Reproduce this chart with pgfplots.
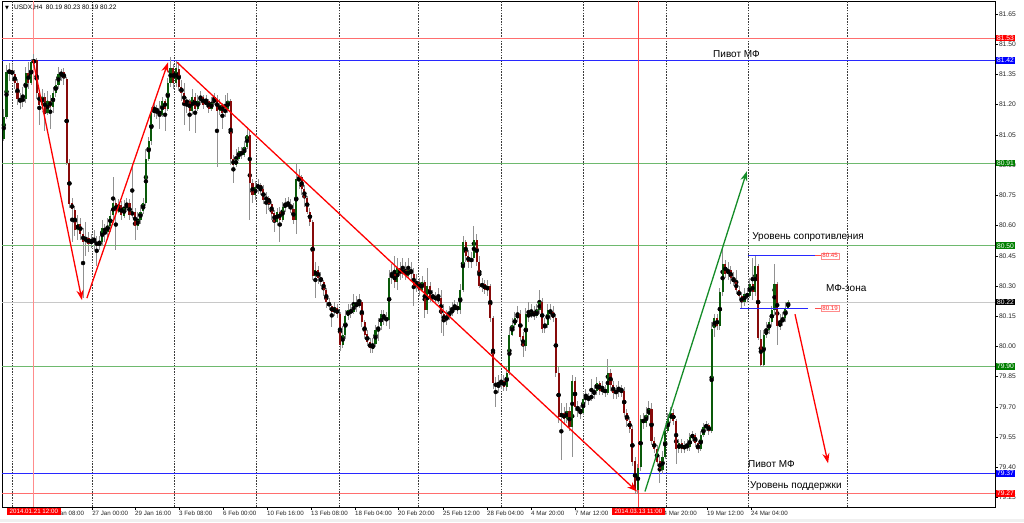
\documentclass[border=0pt]{standalone}
\usepackage{pgfplots}
\pgfplotsset{compat=1.18}
\usepackage{pgfplotstable}
\usepackage{fontspec}
\setmainfont{Liberation Sans}
\newfontfamily\symfont{DejaVu Sans}
\usetikzlibrary{arrows.meta}

\definecolor{bull}{RGB}{10,90,10}
\definecolor{bear}{RGB}{135,10,10}
\definecolor{wick}{RGB}{145,145,145}
\definecolor{lvlred}{RGB}{255,110,110}
\definecolor{lvlblue}{RGB}{40,40,255}
\definecolor{lvlgreen}{RGB}{110,185,110}
\definecolor{curline}{RGB}{200,200,200}
\definecolor{boxgreen}{RGB}{0,128,0}
\definecolor{arrowgreen}{RGB}{20,140,40}
\definecolor{gridc}{RGB}{60,60,60}

\newcommand{\tk}{\fontsize{6.2}{7}\selectfont}
\newcommand{\tky}{\fontsize{6.7}{7.5}\selectfont}
\newcommand{\ann}{\fontsize{10}{12}\selectfont}

% USDX, H4 candles: bar index, open, high, low, close
\pgfplotstableread{
i o h l c
-3 81.03 81.18 81.02 81.14
-2 81.14 81.40 81.13 81.36
-1 81.36 81.41 81.32 81.37
0 81.37 81.40 81.32 81.35
1 81.35 81.37 81.28 81.31
2 81.31 81.33 81.20 81.23
3 81.23 81.26 81.18 81.22
4 81.22 81.29 81.19 81.23
5 81.23 81.39 81.21 81.36
6 81.36 81.41 81.28 81.31
7 81.31 81.43 81.30 81.41
8 81.41 81.45 81.38 81.42
9 81.42 81.43 81.23 81.26
10 81.26 81.27 81.10 81.20
11 81.20 81.28 81.18 81.24
12 81.24 81.26 81.07 81.16
13 81.16 81.27 81.15 81.22
14 81.22 81.25 81.08 81.19
15 81.19 81.29 81.16 81.26
16 81.26 81.33 81.24 81.30
17 81.30 81.39 81.28 81.35
18 81.35 81.38 81.32 81.36
19 81.36 81.38 81.30 81.33
20 81.33 81.34 80.90 80.91
21 80.91 80.93 80.69 80.71
22 80.71 80.74 80.52 80.68
23 80.68 80.70 80.55 80.58
24 80.58 80.65 80.53 80.61
25 80.61 80.64 80.53 80.56
26 80.56 80.59 80.24 80.52
27 80.52 80.62 80.45 80.54
28 80.54 80.57 80.47 80.51
29 80.51 80.56 80.49 80.53
30 80.53 80.58 80.48 80.52
31 80.52 80.55 80.40 80.50
32 80.50 80.55 80.48 80.52
33 80.52 80.63 80.50 80.59
34 80.59 80.61 80.52 80.57
35 80.57 80.64 80.54 80.60
36 80.60 80.68 80.57 80.65
37 80.65 80.84 80.63 80.71
38 80.71 80.73 80.48 80.67
39 80.67 80.73 80.66 80.70
40 80.70 80.72 80.63 80.65
41 80.65 80.73 80.64 80.69
42 80.69 80.74 80.67 80.71
43 80.71 80.73 80.63 80.65
44 80.65 80.91 80.64 80.67
45 80.67 80.69 80.53 80.60
46 80.60 80.67 80.58 80.63
47 80.63 80.70 80.61 80.67
48 80.67 80.74 80.66 80.71
49 80.71 80.98 80.70 80.93
50 80.93 81.04 80.92 81.02
51 81.02 81.19 81.00 81.16
52 81.16 81.22 81.14 81.18
53 81.18 81.20 81.13 81.17
54 81.17 81.22 81.08 81.15
55 81.15 81.24 81.14 81.22
56 81.22 81.23 81.07 81.18
57 81.18 81.33 81.17 81.31
58 81.31 81.44 81.29 81.38
59 81.38 81.40 81.28 81.31
60 81.31 81.42 81.29 81.38
61 81.38 81.41 81.27 81.29
62 81.29 81.32 81.22 81.26
63 81.26 81.31 81.10 81.21
64 81.21 81.24 81.16 81.22
65 81.22 81.23 81.07 81.17
66 81.17 81.28 81.15 81.24
67 81.24 81.26 81.06 81.18
68 81.18 81.25 81.17 81.22
69 81.22 81.27 81.20 81.24
70 81.24 81.25 81.18 81.20
71 81.20 81.25 81.19 81.22
72 81.22 81.23 81.16 81.18
73 81.18 81.24 81.17 81.21
74 81.21 81.26 81.20 81.23
75 81.23 81.25 80.89 81.17
76 81.17 81.23 81.15 81.20
77 81.20 81.21 81.08 81.16
78 81.16 81.25 81.14 81.18
79 81.18 81.26 81.16 81.22
80 81.22 81.23 80.90 80.93
81 80.93 80.95 80.81 80.90
82 80.90 80.98 80.89 80.93
83 80.93 80.99 80.92 80.97
84 80.97 80.99 80.93 80.95
85 80.95 81.02 80.94 80.99
86 80.99 81.09 80.98 81.05
87 81.05 81.07 80.63 80.81
88 80.81 80.83 80.71 80.75
89 80.75 80.82 80.73 80.79
90 80.79 80.83 80.76 80.80
91 80.80 80.81 80.75 80.78
92 80.78 80.80 80.71 80.73
93 80.73 80.77 80.66 80.74
94 80.74 80.75 80.68 80.71
95 80.71 80.72 80.63 80.66
96 80.66 80.68 80.57 80.62
97 80.62 80.69 80.60 80.67
98 80.67 80.69 80.52 80.63
99 80.63 80.72 80.62 80.69
100 80.69 80.74 80.67 80.71
101 80.71 80.74 80.68 80.70
102 80.70 80.73 80.66 80.68
103 80.68 80.71 80.61 80.63
104 80.63 80.91 80.56 80.83
105 80.83 80.88 80.78 80.84
106 80.84 80.85 80.75 80.78
107 80.78 80.80 80.69 80.74
108 80.74 80.75 80.66 80.67
109 80.67 80.69 80.60 80.62
110 80.62 80.63 80.33 80.35
111 80.35 80.42 80.24 80.38
112 80.38 80.40 80.31 80.34
113 80.34 80.37 80.30 80.32
114 80.32 80.33 80.25 80.28
115 80.28 80.29 80.19 80.22
116 80.22 80.24 80.18 80.20
117 80.20 80.21 80.10 80.17
118 80.17 80.22 80.15 80.19
119 80.19 80.21 80.14 80.16
120 80.16 80.17 79.98 80.01
121 80.01 80.10 79.99 80.06
122 80.06 80.18 80.04 80.15
123 80.15 80.21 80.13 80.18
124 80.18 80.21 80.14 80.17
125 80.17 80.26 80.16 80.21
126 80.21 80.25 80.17 80.20
127 80.20 80.26 80.19 80.22
128 80.22 80.23 80.10 80.12
129 80.12 80.13 80.04 80.06
130 80.06 80.08 80.00 80.02
131 80.02 80.04 79.97 79.99
132 79.99 80.04 79.97 80.01
133 80.01 80.11 80.00 80.08
134 80.08 80.14 80.03 80.10
135 80.10 80.18 80.08 80.16
136 80.16 80.18 80.11 80.14
137 80.14 80.17 80.10 80.13
138 80.13 80.38 80.09 80.34
139 80.34 80.41 80.31 80.36
140 80.36 80.45 80.29 80.32
141 80.32 80.44 80.28 80.39
142 80.39 80.42 80.33 80.36
143 80.36 80.44 80.34 80.38
144 80.38 80.42 80.33 80.35
145 80.35 80.44 80.34 80.38
146 80.38 80.42 80.33 80.36
147 80.36 80.39 80.20 80.30
148 80.30 80.36 80.27 80.32
149 80.32 80.34 80.25 80.28
150 80.28 80.35 80.27 80.32
151 80.32 80.33 80.14 80.18
152 80.18 80.39 80.16 80.30
153 80.30 80.32 80.22 80.24
154 80.24 80.28 80.22 80.25
155 80.25 80.27 80.21 80.23
156 80.23 80.29 80.21 80.24
157 80.24 80.28 80.07 80.16
158 80.16 80.21 80.05 80.13
159 80.13 80.18 80.11 80.15
160 80.15 80.20 80.13 80.17
161 80.17 80.22 80.15 80.18
162 80.18 80.23 80.17 80.20
163 80.20 80.22 80.16 80.18
164 80.18 80.31 80.16 80.28
165 80.28 80.55 80.27 80.52
166 80.52 80.53 80.42 80.45
167 80.45 80.48 80.39 80.42
168 80.42 80.47 80.39 80.44
169 80.44 80.60 80.42 80.53
170 80.53 80.56 80.40 80.42
171 80.42 80.45 80.29 80.30
172 80.30 80.34 80.27 80.31
173 80.31 80.33 80.26 80.28
174 80.28 80.33 80.25 80.30
175 80.30 80.31 80.12 80.14
176 80.14 80.15 79.79 79.82
177 79.82 79.85 79.70 79.80
178 79.80 79.86 79.77 79.81
179 79.81 79.86 79.79 79.83
180 79.83 79.86 79.78 79.80
181 79.80 79.90 79.78 79.87
182 79.87 80.10 79.86 80.06
183 80.06 80.14 80.05 80.11
184 80.11 80.17 80.08 80.14
185 80.14 80.20 80.12 80.16
186 80.16 80.18 80.03 80.05
187 80.05 80.07 79.95 80.00
188 80.00 80.19 79.98 80.16
189 80.16 80.22 80.12 80.15
190 80.15 80.21 80.14 80.17
191 80.17 80.20 80.13 80.15
192 80.15 80.21 80.14 80.18
193 80.18 80.28 80.16 80.22
194 80.22 80.24 80.07 80.09
195 80.09 80.14 80.07 80.11
196 80.11 80.21 80.09 80.18
197 80.18 80.21 80.13 80.17
198 80.17 80.20 80.12 80.14
199 80.14 80.16 79.85 79.87
200 79.87 79.90 79.62 79.65
201 79.65 79.72 79.44 79.67
202 79.67 79.70 79.61 79.64
203 79.64 79.72 79.62 79.68
204 79.68 79.70 79.58 79.60
205 79.60 79.86 79.45 79.83
206 79.83 79.85 79.68 79.70
207 79.70 79.73 79.65 79.69
208 79.69 79.71 79.64 79.67
209 79.67 79.77 79.66 79.74
210 79.74 79.79 79.72 79.75
211 79.75 79.77 79.71 79.74
212 79.74 79.84 79.73 79.76
213 79.76 79.81 79.74 79.78
214 79.78 79.85 79.76 79.82
215 79.82 79.83 79.76 79.78
216 79.78 79.83 79.76 79.79
217 79.79 79.81 79.75 79.77
218 79.77 79.94 79.76 79.87
219 79.87 79.89 79.78 79.81
220 79.81 79.83 79.74 79.77
221 79.77 79.81 79.74 79.78
222 79.78 79.83 79.75 79.79
223 79.79 79.81 79.75 79.78
224 79.78 79.80 79.65 79.67
225 79.67 79.69 79.60 79.63
226 79.63 79.65 79.57 79.59
227 79.59 79.61 79.41 79.43
228 79.43 79.45 79.27 79.29
229 79.29 79.42 79.27 79.40
230 79.40 79.66 79.38 79.64
231 79.64 79.67 79.59 79.62
232 79.62 79.70 79.60 79.66
233 79.66 79.73 79.64 79.69
234 79.69 79.72 79.51 79.53
235 79.53 79.55 79.47 79.49
236 79.49 79.51 79.41 79.43
237 79.43 79.46 79.32 79.39
238 79.39 79.48 79.37 79.45
239 79.45 79.60 79.44 79.58
240 79.58 79.67 79.57 79.64
241 79.64 79.70 79.62 79.67
242 79.67 79.69 79.61 79.63
243 79.63 79.64 79.42 79.49
244 79.49 79.54 79.47 79.52
245 79.52 79.54 79.47 79.49
246 79.49 79.53 79.47 79.51
247 79.51 79.54 79.48 79.50
248 79.50 79.57 79.48 79.55
249 79.55 79.58 79.53 79.56
250 79.56 79.57 79.50 79.52
251 79.52 79.53 79.47 79.49
252 79.49 79.58 79.48 79.56
253 79.56 79.62 79.55 79.60
254 79.60 79.63 79.58 79.61
255 79.61 79.62 79.56 79.58
256 79.58 80.12 79.57 80.09
257 80.09 80.16 80.05 80.14
258 80.14 80.16 80.08 80.10
259 80.10 80.29 80.08 80.27
260 80.27 80.49 80.25 80.41
261 80.41 80.43 80.34 80.36
262 80.36 80.42 80.33 80.38
263 80.38 80.40 80.31 80.34
264 80.34 80.37 80.30 80.32
265 80.32 80.38 80.26 80.28
266 80.28 80.30 80.23 80.25
267 80.25 80.27 80.19 80.22
268 80.22 80.29 80.20 80.26
269 80.26 80.29 80.22 80.25
270 80.25 80.34 80.24 80.31
271 80.31 80.44 80.23 80.27
272 80.27 80.45 80.25 80.40
273 80.40 80.41 80.03 80.04
274 80.04 80.08 79.90 79.91
275 79.91 80.08 79.90 80.06
276 80.06 80.12 80.04 80.08
277 80.08 80.14 80.06 80.12
278 80.12 80.20 80.10 80.18
279 80.18 80.41 80.15 80.31
280 80.31 80.32 80.01 80.10
281 80.10 80.16 80.08 80.12
282 80.12 80.17 80.10 80.14
283 80.14 80.22 80.12 80.19
284 80.19 80.23 80.19 80.22
}\candles

\begin{document}
\begin{tikzpicture}[x=1pt,y=1pt]
\useasboundingbox (0,0) rectangle (1024,522);
\fill[white] (0,0) rectangle (1024,522);
\fill[black!6] (0,0) rectangle (1024,3);
\begin{axis}[
  at={(2pt,15pt)}, anchor=south west,
  width=993pt, height=506pt, scale only axis,
  xmin=-3.66, xmax=359.68,
  ymin=79.2033, ymax=81.7145,
  clip mode=individual,
  axis line style={black, line width=0.8pt},
  tick align=outside,
  major tick length=3pt,
  tick style={black, line width=0.5pt},
  ytick pos=right, yticklabel pos=right,
  ytick={79.25,79.40,79.55,79.70,79.85,80.00,80.15,80.30,80.45,80.60,80.75,80.90,81.05,81.20,81.35,81.50,81.65},
  /pgf/number format/assume math mode=true,
  yticklabel={\pgfmathprintnumber[fixed, fixed zerofill, precision=2]{\tick}},
  yticklabel style={font=\tky, inner sep=0.8pt, anchor=west, text=black!85},
  xtick pos=bottom,
  xtick={13.2,29.3,45.0,61.1,77.2,93.3,109.4,125.5,141.2,157.7,173.8,189.9,206.0,237.1,254.3,270.4},
  xticklabels={23 Jan 08:00, 27 Jan 00:00, 29 Jan 16:00, 3 Feb 08:00, 6 Feb 00:00, 10 Feb 16:00, 13 Feb 08:00, 18 Feb 04:00, 20 Feb 20:00, 25 Feb 12:00, 28 Feb 04:00, 4 Mar 20:00, 7 Mar 12:00, 14 Mar 20:00, 19 Mar 12:00, 24 Mar 04:00},
  xticklabel style={font=\tk, anchor=north west, inner sep=1pt, xshift=-1pt, text=black!85},
  extra x ticks={0,29.3,59.3,89.3,119.6,148.6,178.9,208.9,239.6,269.6,305.5},
  extra x tick labels={},
  extra x tick style={grid=major, tick style={draw=none},
    major grid style={gridc, line width=0.7pt, dash pattern=on 1.6pt off 1.2pt}},
]

% support / resistance levels
\addplot[lvlred, line width=1.2pt] coordinates {(-3.66,81.53) (359.68,81.53)};
\addplot[lvlblue, line width=1.1pt] coordinates {(-3.66,81.42) (359.68,81.42)};
\addplot[lvlgreen, line width=1.2pt] coordinates {(-3.66,80.91) (359.68,80.91)};
\addplot[lvlgreen, line width=1.2pt] coordinates {(-3.66,80.50) (359.68,80.50)};
\addplot[curline, line width=1.1pt] coordinates {(-3.66,80.22) (359.68,80.22)};
\addplot[lvlgreen, line width=1.2pt] coordinates {(-3.66,79.90) (359.68,79.90)};
\addplot[lvlblue, line width=1.1pt] coordinates {(-3.66,79.37) (359.68,79.37)};
\addplot[lvlred, line width=1.2pt] coordinates {(-3.66,79.27) (359.68,79.27)};

% crosshair verticals
\addplot[red!45, line width=1.1pt] coordinates {(8,79.2033) (8,81.7145)};
\addplot[red!75, line width=1.1pt] coordinates {(229.2,79.2033) (229.2,81.7145)};

% candle wicks
\addplot[only marks, mark=none, error bars/.cd, y dir=both, y explicit, error mark=none,
  error bar style={wick, line width=0.9pt}]
  table[x=i,
    y expr={(max(\thisrow{h},\thisrow{o},\thisrow{c})+min(\thisrow{l},\thisrow{o},\thisrow{c}))/2},
    y error expr={(max(\thisrow{h},\thisrow{o},\thisrow{c})-min(\thisrow{l},\thisrow{o},\thisrow{c}))/2}]
  {\candles};
% bullish bodies
\addplot[only marks, mark=none,
  restrict expr to domain={\thisrow{c}-\thisrow{o}}{0:100},
  error bars/.cd, y dir=both, y explicit, error mark=none,
  error bar style={bull, line width=2.1pt}]
  table[x=i, y expr={(\thisrow{o}+\thisrow{c})/2},
    y error expr={max(abs(\thisrow{c}-\thisrow{o})/2,0.002)}]
  {\candles};
% bearish bodies
\addplot[only marks, mark=none,
  restrict expr to domain={\thisrow{c}-\thisrow{o}}{-100:0},
  error bars/.cd, y dir=both, y explicit, error mark=none,
  error bar style={bear, line width=2.1pt}]
  table[x=i, y expr={(\thisrow{o}+\thisrow{c})/2},
    y error expr={max(abs(\thisrow{c}-\thisrow{o})/2,0.002)}]
  {\candles};

% swing arrows
\addplot[red, line width=1.3pt, -{Stealth[length=10pt,width=7pt]}] coordinates {(7.7,81.42) (25.6,80.23)};
\addplot[red, line width=1.3pt, -{Stealth[length=10pt,width=7pt]}] coordinates {(27.4,80.24) (57.1,81.41)};
\addplot[red, line width=1.3pt, -{Stealth[length=10pt,width=7pt]}] coordinates {(60.4,81.41) (228.7,79.28)};
\addplot[arrowgreen, line width=1.3pt, -{Stealth[length=10pt,width=7pt]}] coordinates {(231.6,79.28) (268.9,80.87)};
\addplot[red, line width=1.3pt, -{Stealth[length=10pt,width=7pt]}] coordinates {(286.5,80.16) (298.6,79.42)};

% MF zone bounds
\addplot[lvlblue, line width=1.1pt] coordinates {(269.3,80.45) (294.9,80.45)};
\addplot[lvlblue, line width=1.1pt] coordinates {(266.4,80.19) (291.3,80.19)};
\addplot[red!70, line width=0.9pt] coordinates {(293.8,80.45) (296,80.45)};
\addplot[red!70, line width=0.9pt] coordinates {(293.8,80.19) (296,80.19)};
\node[anchor=west, draw=red!45, fill=white, text=red!85, font=\tk, inner xsep=1.2pt, inner ysep=0.8pt] at (axis cs:296,80.45) {80.45};
\node[anchor=west, draw=red!45, fill=white, text=red!85, font=\tk, inner xsep=1.2pt, inner ysep=0.8pt] at (axis cs:296,80.19) {80.19};

% annotations
\node[anchor=west, font=\ann, inner sep=0pt] at (axis cs:256.5,81.451) {Пивот МФ};
\node[anchor=west, font=\ann, inner sep=0pt] at (axis cs:270.8,80.543) {Уровень сопротивления};
\node[anchor=west, font=\ann, inner sep=0pt] at (axis cs:297.8,80.290) {МФ-зона};
\node[anchor=west, font=\ann, inner sep=0pt] at (axis cs:269.3,79.416) {Пивот МФ};
\node[anchor=west, font=\ann, inner sep=0pt] at (axis cs:270.0,79.307) {Уровень поддержки};

% price tags on the scale
\node[anchor=west, fill=red, text=white, font=\tky, inner xsep=1.3pt, inner ysep=0.9pt, xshift=0.6pt] at (axis cs:359.68,81.53) {81.53};
\node[anchor=west, fill=blue, text=white, font=\tky, inner xsep=1.3pt, inner ysep=0.9pt, xshift=0.6pt] at (axis cs:359.68,81.42) {81.42};
\node[anchor=west, fill=boxgreen, text=white, font=\tky, inner xsep=1.3pt, inner ysep=0.9pt, xshift=0.6pt] at (axis cs:359.68,80.91) {80.91};
\node[anchor=west, fill=boxgreen, text=white, font=\tky, inner xsep=1.3pt, inner ysep=0.9pt, xshift=0.6pt] at (axis cs:359.68,80.50) {80.50};
\node[anchor=west, fill=black, text=white, font=\tky, inner xsep=1.3pt, inner ysep=0.9pt, xshift=0.6pt] at (axis cs:359.68,80.22) {80.22};
\node[anchor=west, fill=boxgreen, text=white, font=\tky, inner xsep=1.3pt, inner ysep=0.9pt, xshift=0.6pt] at (axis cs:359.68,79.90) {79.90};
\node[anchor=west, fill=blue, text=white, font=\tky, inner xsep=1.3pt, inner ysep=0.9pt, xshift=0.6pt] at (axis cs:359.68,79.37) {79.37};
\node[anchor=west, fill=red, text=white, font=\tky, inner xsep=1.3pt, inner ysep=0.9pt, xshift=0.6pt] at (axis cs:359.68,79.27) {79.27};

% crosshair time tags
\node[anchor=north, fill=red, text=white, font=\tk, inner xsep=3pt, inner ysep=1.2pt, yshift=-1.2pt] at (axis cs:8,79.2033) {2014.01.21 12:00};
\node[anchor=north, fill=red, text=white, font=\tk, inner xsep=3pt, inner ysep=1.2pt, yshift=-1.2pt] at (axis cs:229.2,79.2033) {2014.03.13 11:00};
\end{axis}
% chart caption
\node[anchor=west, inner sep=0pt] at (5,514) {\symfont\fontsize{5}{6}\selectfont ▼};
\node[anchor=west, inner sep=0pt, font=\fontsize{6.5}{8}\selectfont] at (14,514) {USDX,H4\ \ 80.19 80.23 80.19 80.22};
\end{tikzpicture}
\end{document}
